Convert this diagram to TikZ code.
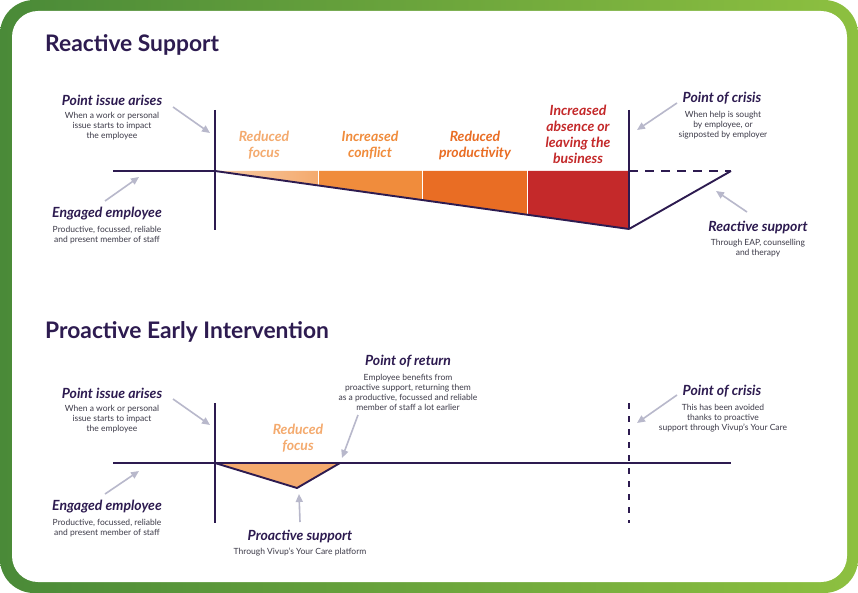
\documentclass[tikz,border=0pt]{standalone}
\usepackage{fontspec}
\setmainfont{Lato}
\usetikzlibrary{arrows.meta}
\definecolor{purp}{HTML}{2D1B50}
\definecolor{subtxt}{HTML}{3C3A48}
\definecolor{arrowgray}{HTML}{B8B8CB}
\definecolor{greenL}{HTML}{4A8A38}
\definecolor{greenR}{HTML}{8DC040}
\definecolor{stA}{HTML}{F4AA6E}
\definecolor{stAl}{HTML}{F8CCA6}
\definecolor{stB}{HTML}{F08C3C}
\definecolor{stC}{HTML}{E96D24}
\definecolor{stD}{HTML}{C4292A}
\tikzset{
  title/.style={anchor=base west, text=purp, font=\fontsize{22.8}{26}\selectfont\bfseries, inner sep=0pt},
  head/.style={text=purp, font=\fontsize{14}{16}\selectfont\bfseries\itshape, inner sep=0pt},
  sub/.style={text=subtxt, font=\fontsize{8.5}{10}\selectfont, align=center, inner sep=0pt},
  stage/.style={font=\fontsize{14}{16}\selectfont\bfseries\itshape, align=center, inner sep=0pt},
  axis/.style={draw=purp, line width=1.9pt},
  pointer/.style={draw=arrowgray, line width=1.6pt, -{Triangle[length=8pt,width=7pt]}},
}
\begin{document}
\begin{tikzpicture}[x=1pt,y=-1pt]
\useasboundingbox (0,0) rectangle (858,593);
% frame
\shade[left color=greenL, right color=greenR, rounded corners=34pt] (0,0) rectangle (858,593);
\fill[white, rounded corners=26pt] (12,11) rectangle (847,582);

% ===== Reactive Support =====
\node[title] (t1) at (45,52) {Reactive Support};

\coordinate (a0) at (113,171);
\coordinate (a1) at (215,171);
\coordinate (v1t) at (215,110);
\coordinate (v1b) at (215,230);
\coordinate (c1t) at (629,110);
\coordinate (c1m) at (629,171);
\coordinate (c1b) at (629,229);
\coordinate (r1) at (731,171);

% stage fills
\shade[left color=stAl, right color=stA] (215,171) -- (318,171) -- (318,185.4) -- (215,171) -- cycle;
\fill[stB] (318,171) -- (422,171) -- (422,200) -- (318,185.4) -- cycle;
\fill[stC] (422,171) -- (527,171) -- (527,214.7) -- (422,200) -- cycle;
\fill[stD] (527,171) -- (629,171) -- (629,229) -- (527,214.7) -- cycle;
\draw[white, line width=1.6pt] (318.5,170) -- (318.5,187) (422.5,170) -- (422.5,202) (527.5,170) -- (527.5,217);

\draw[axis] (a0) -- (a1);
\draw[axis] (v1t) -- (v1b);
\draw[axis] (a1) -- (c1b);
\draw[axis] (c1t) -- (c1b);
\draw[axis] (c1b) -- (r1);
\draw[draw=purp, line width=1.9pt, dash pattern=on 9pt off 7pt] (c1m) -- (r1);

\node[stage, text=stA] (s1) at (264,145) {Reduced\\focus};
\node[stage, text=stB] (s2) at (370,145) {Increased\\conflict};
\node[stage, text=stC] (s3) at (475,145) {Reduced\\productivity};
\node[stage, text=stD] (s4) at (578,134) {Increased\\absence or\\leaving the\\business};

\node[head] (pi1) at (112,100) {Point issue arises};
\node[sub] (pi1s) at (112,126) {When a work or personal\\issue starts to impact\\the employee};
\coordinate (pi1a) at (173,107);
\coordinate (pi1e) at (210,133);
\draw[pointer] (pi1a) -- (pi1e);

\node[head] (ee1) at (107,214) {Engaged employee};
\node[sub] (ee1s) at (107,235) {Productive, focussed, reliable\\and present member of staff};
\coordinate (ee1a) at (105,201);
\coordinate (ee1e) at (139,177);
\draw[pointer] (ee1a) -- (ee1e);

\node[head] (pc1) at (722,98) {Point of crisis};
\node[sub] (pc1s) at (723,125) {When help is sought\\by employee, or\\signposted by employer};
\coordinate (pc1a) at (677,103);
\coordinate (pc1e) at (637,130);
\draw[pointer] (pc1a) -- (pc1e);

\node[head] (rs1) at (758,227) {Reactive support};
\node[sub] (rs1s) at (758,248) {Through EAP, counselling\\and therapy};
\coordinate (rs1a) at (747,212);
\coordinate (rs1e) at (716,191);
\draw[pointer] (rs1a) -- (rs1e);

% ===== Proactive Early Intervention =====
\node[title] (t2) at (45,338) {Proactive Early Intervention};

\coordinate (b0) at (113,463);
\coordinate (b1) at (215,463);
\coordinate (bd) at (297,488);
\coordinate (b2) at (340,463);
\coordinate (b3) at (731,463);
\coordinate (v2t) at (215,403);
\coordinate (v2b) at (215,523);
\coordinate (d2t) at (629,403);
\coordinate (d2b) at (629,523);

\fill[stA] (b1) -- (bd) -- (b2) -- cycle;
\draw[axis] (b0) -- (b3);
\draw[axis] (v2t) -- (v2b);
\draw[axis, line join=round] (b1) -- (bd) -- (b2);
\draw[draw=purp, line width=1.9pt, dash pattern=on 6pt off 7pt] (d2t) -- (d2b);

\node[stage, text=stA] (s5) at (298,438) {Reduced\\focus};

\node[head] (pi2) at (112,393) {Point issue arises};
\node[sub] (pi2s) at (112,419) {When a work or personal\\issue starts to impact\\the employee};
\coordinate (pi2a) at (173,399);
\coordinate (pi2e) at (210,425);
\draw[pointer] (pi2a) -- (pi2e);

\node[head] (ee2) at (107,507) {Engaged employee};
\node[sub] (ee2s) at (107,528) {Productive, focussed, reliable\\and present member of staff};
\coordinate (ee2a) at (105,494);
\coordinate (ee2e) at (139,471);
\draw[pointer] (ee2a) -- (ee2e);

\node[head] (pr2) at (408,361) {Point of return};
\node[sub] (pr2s) at (408,392) {Employee benefits from\\proactive support, returning them\\as a productive, focussed and reliable\\member of staff a lot earlier};
\coordinate (pr2a) at (358,415);
\coordinate (pr2e) at (342,458);
\draw[pointer] (pr2a) -- (pr2e);

\node[head] (pc2) at (722,391) {Point of crisis};
\node[sub] (pc2s) at (723,418) {This has been avoided\\thanks to proactive\\support through Vivup's Your Care};
\coordinate (pc2a) at (677,395);
\coordinate (pc2e) at (637,423);
\draw[pointer] (pc2a) -- (pc2e);

\node[head] (ps2) at (300,536) {Proactive support};
\node[sub] (ps2s) at (300,552) {Through Vivup's Your Care platform};
\coordinate (ps2a) at (300,522);
\coordinate (ps2e) at (299,494);
\draw[pointer] (ps2a) -- (ps2e);
\end{tikzpicture}
\end{document}
